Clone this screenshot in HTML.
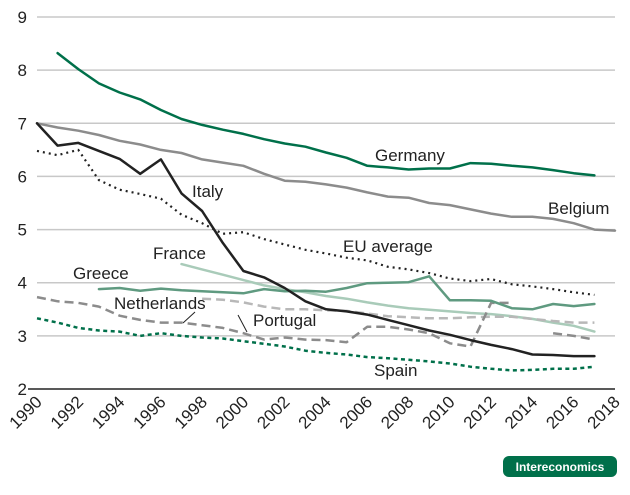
<!DOCTYPE html>
<html><head><meta charset="utf-8"><style>
body{margin:0;background:#fff;}
svg text{font-family:"Liberation Sans",sans-serif;}
</style></head><body>
<svg id="c" width="630" height="490">
<g id="grid"></g><g id="series"></g><g id="axes"></g>
<g font-size="17" fill="#222">
<text x="375" y="161">Germany</text>
<text x="548" y="214">Belgium</text>
<text x="192" y="197">Italy</text>
<text x="153" y="259">France</text>
<text x="343" y="252">EU average</text>
<text x="73" y="279">Greece</text>
<text x="114" y="309">Netherlands</text>
<text x="253" y="326">Portugal</text>
<text x="374" y="376">Spain</text>
</g>
<line x1="195" y1="312" x2="183" y2="323" stroke="#222"/>
<line x1="238" y1="315" x2="247" y2="332" stroke="#222"/>
<g>
<rect x="503" y="456" width="114" height="21" rx="6" fill="#00704a"/>
<text x="560" y="471" text-anchor="middle" fill="#fff" font-size="12" font-weight="bold">Intereconomics</text>
</g>
</svg>
<script>
const years=[1990,1991,1992,1993,1994,1995,1996,1997,1998,1999,2000,2001,2002,2003,2004,2005,2006,2007,2008,2009,2010,2011,2012,2013,2014,2015,2016,2017,2018];
const yTicks=[2,3,4,5,6,7,8,9];
const xTicks=[1990,1992,1994,1996,1998,2000,2002,2004,2006,2008,2010,2012,2014,2016,2018];
const germany=[null,8.32,8.02,7.75,7.58,7.45,7.25,7.08,6.97,6.88,6.8,6.7,6.62,6.56,6.45,6.35,6.2,6.17,6.13,6.15,6.15,6.25,6.24,6.2,6.17,6.12,6.06,6.02,null];
const belgium=[7.0,6.92,6.86,6.78,6.67,6.6,6.5,6.44,6.32,6.26,6.2,6.05,5.92,5.9,5.85,5.79,5.7,5.62,5.6,5.5,5.46,5.38,5.3,5.24,5.24,5.2,5.12,5.0,4.98];
const italy=[7.0,6.58,6.63,6.48,6.33,6.05,6.32,5.68,5.35,4.75,4.22,4.1,3.9,3.65,3.5,3.46,3.4,3.3,3.2,3.1,3.02,2.92,2.83,2.75,2.65,2.64,2.62,2.62,null];
const euAverage=[6.48,6.4,6.5,5.93,5.75,5.67,5.58,5.28,5.12,4.92,4.95,4.82,4.72,4.62,4.55,4.47,4.42,4.3,4.25,4.18,4.08,4.03,4.07,3.97,3.93,3.88,3.82,3.77,null];
const france=[null,null,null,null,null,null,null,4.35,4.25,4.15,4.05,3.95,3.88,3.82,3.75,3.7,3.63,3.57,3.52,3.49,3.46,3.43,3.41,3.37,3.32,3.25,3.19,3.08,null];
const greece=[null,null,null,3.88,3.9,3.85,3.89,3.86,3.84,3.82,3.8,3.88,3.84,3.85,3.83,3.9,3.99,4.0,4.01,4.12,3.67,3.67,3.66,3.52,3.5,3.6,3.56,3.6,null];
const netherlands=[3.73,3.65,3.62,3.55,3.38,3.3,3.25,3.25,3.2,3.15,3.05,2.93,2.97,2.93,2.92,2.88,3.17,3.17,3.12,3.05,2.86,2.8,3.62,3.62,null,3.05,3.0,2.93,null];
const portugal=[null,null,null,null,null,null,null,null,3.7,3.68,3.63,3.55,3.5,3.5,3.48,3.47,3.42,3.37,3.35,3.33,3.33,3.35,3.36,3.36,3.32,3.28,3.25,3.25,null];
const spain=[3.33,3.25,3.15,3.1,3.08,3.0,3.05,3.0,2.97,2.95,2.9,2.85,2.8,2.72,2.68,2.65,2.6,2.58,2.55,2.52,2.48,2.42,2.38,2.35,2.36,2.38,2.38,2.42,null];
const NS='http://www.w3.org/2000/svg';
const x=y=>37+(y-1990)*(578/28);
const yy=v=>389-(v-2)*(372/7);
function mk(t,a,p){const e=document.createElementNS(NS,t);for(const k in a)e.setAttribute(k,a[k]);p.appendChild(e);return e;}
const grid=document.getElementById('grid'),axes=document.getElementById('axes'),ser=document.getElementById('series');
yTicks.forEach(v=>{
 if(v>2){const l=mk('line',{x1:37,x2:615,y1:yy(v),y2:yy(v),stroke:'#c8c8c8','stroke-width':1.5},grid);
 
 }
 const t=mk('text',{x:27,y:yy(v)+6,'text-anchor':'end','font-size':17,fill:'#222'},axes);t.textContent=v;
 
 
});
const ax=mk('line',{x1:28,x2:615,y1:389,y2:389,stroke:'#222','stroke-width':1.5},axes);


xTicks.forEach(v=>{
 const px=x(v)+6,py=403;
 const t=mk('text',{x:px,y:py,'text-anchor':'end','font-size':17,fill:'#222',transform:`rotate(-45 ${px} ${py})`},axes);t.textContent=v;
 
 
});
const defs=[
 ['germany',germany,'#00704a',2.5,''],
 ['belgium',belgium,'#8c8c8c',2.5,''],
 ['eu-average',euAverage,'#222','2.2','2 4'],
 ['france',france,'#a9cbb9',2.5,''],
 ['portugal',portugal,'#b8b8b8',2.5,'9 5'],
 ['netherlands',netherlands,'#8c8c8c',2.5,'9 5'],
 ['greece',greece,'#5f9a80',2.5,''],
 ['italy',italy,'#222',2.5,''],
 ['spain',spain,'#00704a',2.5,'4 3.5']
];
defs.forEach(([n,arr,c,w,d])=>{
 let dstr='',pen=false;
 arr.forEach((v,i)=>{if(v==null){pen=false;return;}dstr+=(pen?'L':'M')+x(years[i]).toFixed(1)+','+yy(v).toFixed(1);pen=true;});
 const p=mk('path',{d:dstr,fill:'none',stroke:c,'stroke-width':w,'stroke-dasharray':d,'stroke-linecap':d?'butt':'round','stroke-linejoin':'round'},ser);
 
 
});
</script>
</body></html>
